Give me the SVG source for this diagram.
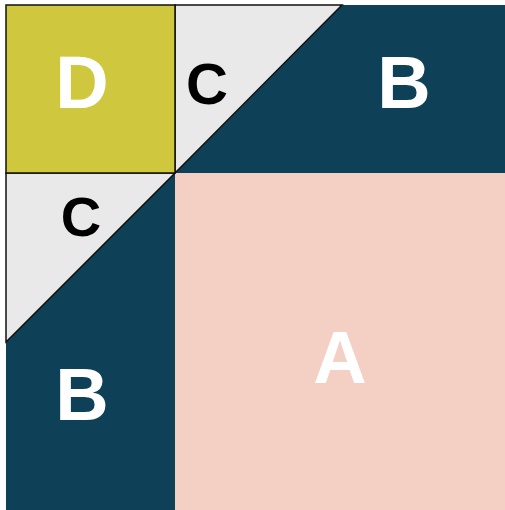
<svg xmlns="http://www.w3.org/2000/svg" width="505" height="510" viewBox="0 0 505 510">
<style>
.lbl{font-family:"Liberation Sans",Arial,sans-serif;font-weight:bold;text-anchor:middle}
.w{fill:#ffffff}
.k{fill:#000000}
.ol{stroke:#111;stroke-width:1.5}
</style>
<rect width="505" height="510" fill="#ffffff"/>
<g id="A"><rect x="175" y="173" width="330" height="337" fill="#F4D0C4"/><text class="lbl w" x="340" y="383" font-size="74">A</text></g>
<g id="B-top"><polygon points="342,5 505,5 505,173 175,173" fill="#0E4058"/><text class="lbl w" x="404" y="108" font-size="74">B</text></g>
<g id="B-left"><polygon points="6,342 175,173 175,510 6,510" fill="#0E4058"/><text class="lbl w" x="82" y="420" font-size="74">B</text></g>
<g id="C-top"><polygon class="ol" points="175,5 342,5 175,173" fill="#E8E9E8"/><text class="lbl k" x="207" y="104" font-size="58">C</text></g>
<g id="C-left"><polygon class="ol" points="6,173 175,173 6,342" fill="#E8E9E8"/><text class="lbl k" x="81" y="236" font-size="56">C</text></g>
<g id="D"><rect class="ol" x="6" y="5" width="169" height="168" fill="#CFC83E"/><text class="lbl w" x="82" y="108" font-size="74">D</text></g>
</svg>
